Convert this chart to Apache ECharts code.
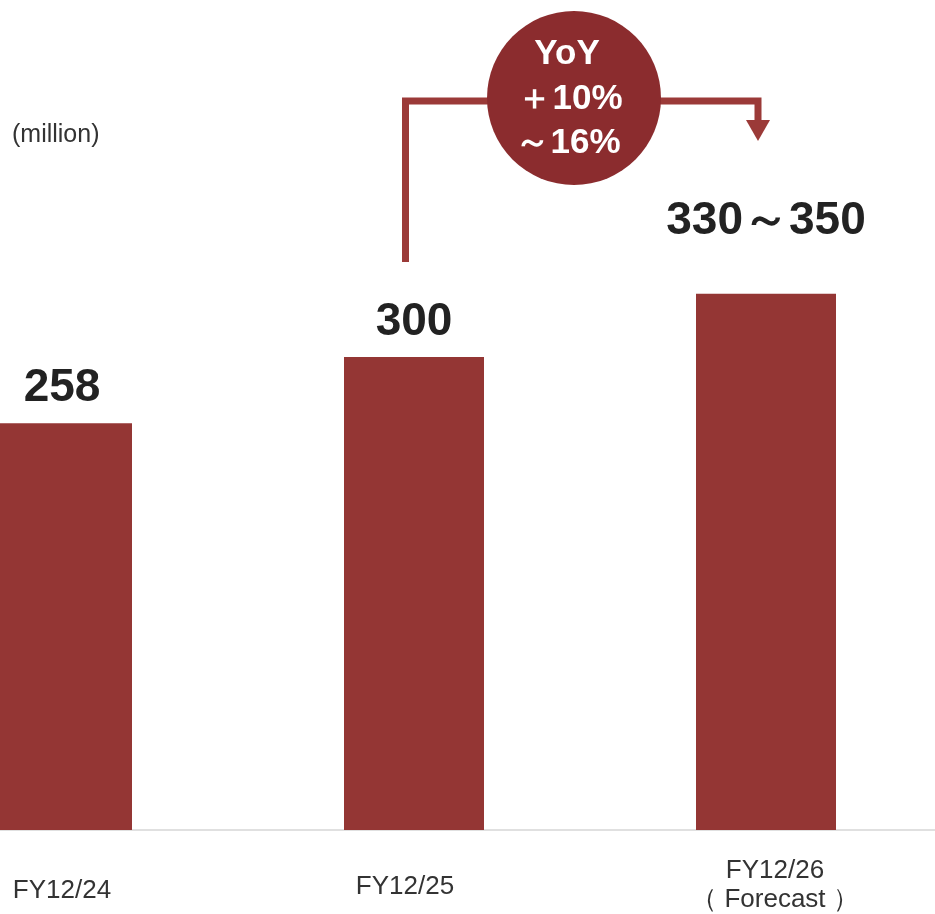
<!DOCTYPE html>
<html>
<head>
<meta charset="utf-8">
<script src="https://cdn.jsdelivr.net/npm/echarts@6/dist/echarts.min.js"></script>
<style>
html,body{margin:0;padding:0;background:#fff;}
#chart{width:935px;height:914px;}
</style>
</head>
<body>
<div id="chart"></div>
<script>
const categories = ["FY12/24", "FY12/25", "FY12/26\n（ Forecast ）"];
const values = [258, 300, 340];
const valueLabels = ["258", "300", "330～350"];
const labelGaps = [12, 12, 50];
const unitText = "(million)";
const yoyLines = ["YoY", "＋10%", "～16%"];

const chart = echarts.init(document.getElementById('chart'), null, {renderer: 'canvas'});
const barColor = '#943634';
const circleColor = '#8B2C2E';
const arrowColor = '#9B3A38';
const labelFont = 'Liberation Sans, Arial, sans-serif';

const option = {
  animation: false,
  backgroundColor: '#ffffff',
  grid: {left: -114, right: -7, top: 41.5, bottom: 84, containLabel: false, outerBoundsMode: 'none'},
  xAxis: {
    type: 'category',
    data: categories,
    axisLine: {show: true, lineStyle: {color: '#e0e0e0', width: 2}},
    axisTick: {show: false},
    axisLabel: {
      interval: 0,
      fontFamily: labelFont,
      fontSize: 26,
      color: '#333333',
      margin: 26,
      formatter: function (v, i) {
        return v.split('\n').map(function (line) { return '{r' + i + '|' + line + '}'; }).join('\n');
      },
      rich: {
        r0: {fontFamily: labelFont, fontSize: 26, color: '#333333', lineHeight: 30, padding: [40, 0, 0, 0]},
        r1: {fontFamily: labelFont, fontSize: 26, color: '#333333', lineHeight: 30, padding: [32, 18, 0, 0]},
        r2: {fontFamily: labelFont, fontSize: 26, color: '#333333', lineHeight: 29, padding: [0, 0, 0, 18]}
      }
    }
  },
  yAxis: {
    type: 'value', min: 0, max: 500,
    show: false,
    splitLine: {show: false}
  },
  series: [{
    type: 'bar',
    barWidth: 140,
    itemStyle: {color: barColor},
    data: values.map(function (v, i) {
      return {
        value: v,
        label: {
          show: true,
          position: 'top',
          distance: labelGaps[i],
          formatter: valueLabels[i],
          fontFamily: labelFont,
          fontWeight: 'bold',
          fontSize: 46,
          lineHeight: 46,
          color: '#222222'
        }
      };
    })
  }],
  graphic: [
    {
      type: 'text', left: 12, top: 123,
      style: {text: unitText, fontFamily: labelFont, fontSize: 25, fill: '#333333'}
    },
    {
      type: 'polyline',
      shape: {points: [[405.5, 262], [405.5, 101], [758, 101], [758, 122]]},
      style: {stroke: arrowColor, lineWidth: 7, fill: null, lineJoin: 'miter'}
    },
    {
      type: 'polygon',
      shape: {points: [[746, 120], [770, 120], [758, 141]]},
      style: {fill: arrowColor}
    },
    {
      type: 'circle',
      shape: {cx: 574, cy: 98, r: 87},
      style: {fill: circleColor}
    },
    {
      type: 'text', x: 567, y: 54,
      style: {text: yoyLines[0], fontFamily: labelFont, fontWeight: 'bold', fontSize: 35, fill: '#ffffff', align: 'center', verticalAlign: 'middle'}
    },
    {
      type: 'text', x: 570, y: 99,
      style: {text: yoyLines[1], fontFamily: labelFont, fontWeight: 'bold', fontSize: 35, fill: '#ffffff', align: 'center', verticalAlign: 'middle'}
    },
    {
      type: 'text', x: 568, y: 143,
      style: {text: yoyLines[2], fontFamily: labelFont, fontWeight: 'bold', fontSize: 35, fill: '#ffffff', align: 'center', verticalAlign: 'middle'}
    }
  ]
};
chart.setOption(option);
</script>
</body>
</html>
